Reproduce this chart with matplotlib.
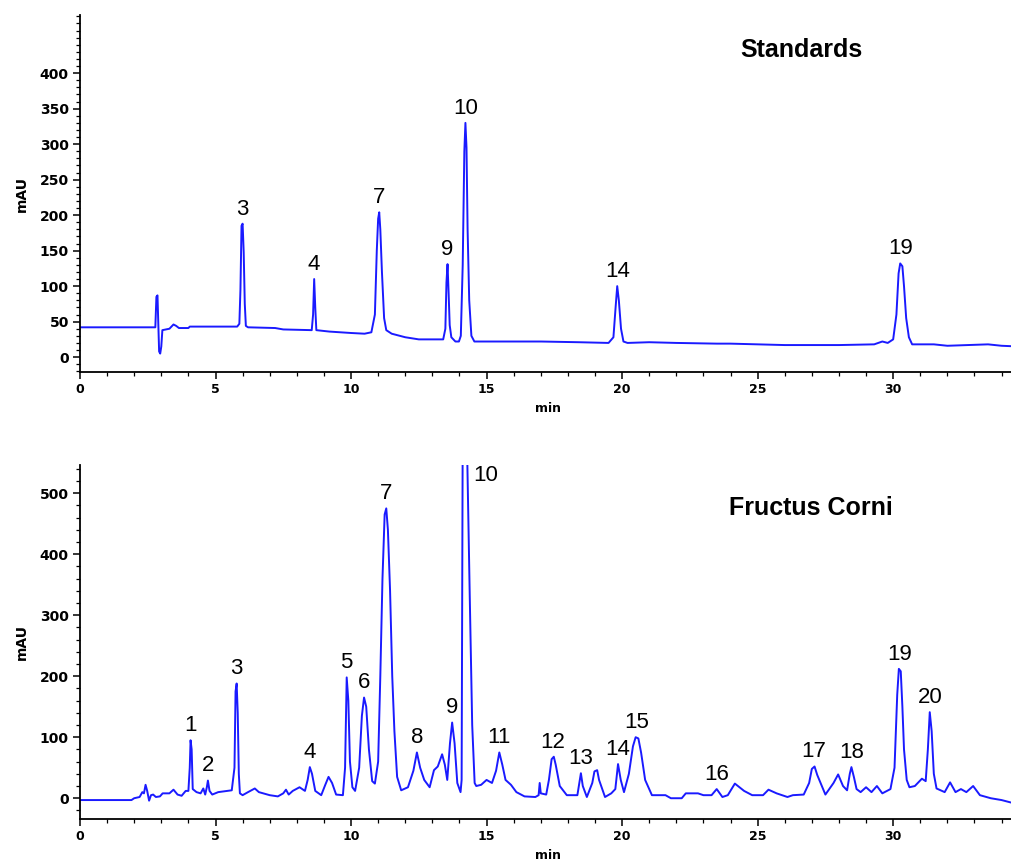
import matplotlib.pyplot as plt
from matplotlib.ticker import MultipleLocator

# Standards trace (time in min, signal in mAU)
std_t = [0.0, 2.78, 2.82, 2.86, 2.88, 2.92, 2.96, 3.0, 3.04, 3.3, 3.45, 3.55, 3.65, 4.0, 4.05,
         5.8, 5.88, 5.92, 5.96, 6.0, 6.04, 6.08, 6.12, 6.2, 7.2, 7.5, 8.55, 8.6, 8.64, 8.68, 8.72,
         9.2, 10.0, 10.5, 10.75, 10.88, 10.95, 11.0, 11.04, 11.08, 11.14, 11.22, 11.3, 11.5, 12.0,
         12.5, 13.4, 13.48, 13.52, 13.56, 13.6, 13.64, 13.7, 13.85, 13.98, 14.05, 14.12, 14.18,
         14.22, 14.26, 14.3, 14.36, 14.44, 14.55, 15.5, 17.0, 18.4, 19.5, 19.68, 19.76, 19.82,
         19.88, 19.96, 20.05, 20.2, 21.0, 22.0, 23.5, 24.0, 25.0, 26.0, 28.0, 29.3, 29.6, 29.8,
         30.0, 30.12, 30.2, 30.26, 30.34, 30.4, 30.48, 30.58, 30.7, 31.5, 32.0, 33.5, 34.0, 34.6]
std_v = [42, 42, 85, 87, 60, 8, 5, 15, 38, 40, 46, 44, 41, 41, 43,
         43, 47, 95, 185, 188, 148, 75, 44, 42, 41, 39, 38, 60, 110, 70, 38,
         36, 34, 33, 35, 60, 150, 195, 204, 180, 120, 55, 38, 33, 28,
         25, 25, 40, 105, 131, 90, 45, 28, 22, 22, 30, 130, 290,
         330, 295, 180, 80, 30, 22, 22, 22, 21, 20, 28, 70, 100,
         80, 40, 22, 20, 21, 20, 19, 19, 18, 17, 17, 18, 22, 20,
         25, 60, 118, 132, 128, 100, 55, 28, 18, 18, 16, 18, 16, 15]

# Fructus Corni extract trace
fc_t = [0.0, 1.9, 2.0, 2.2, 2.3, 2.36, 2.42, 2.48, 2.55, 2.62, 2.7, 2.8, 2.95, 3.05, 3.3, 3.45,
        3.6, 3.75, 3.9, 4.0, 4.05, 4.08, 4.12, 4.16, 4.3, 4.45, 4.55, 4.62, 4.68, 4.72, 4.78,
        4.88, 5.1, 5.6, 5.7, 5.74, 5.78, 5.82, 5.86, 5.9, 6.0, 6.2, 6.45, 6.6, 7.0, 7.3, 7.5,
        7.6, 7.7, 7.85, 8.1, 8.3, 8.4, 8.48, 8.56, 8.68, 8.9, 9.05, 9.17, 9.3, 9.45, 9.7, 9.78,
        9.84, 9.9, 9.96, 10.05, 10.15, 10.3, 10.4, 10.48, 10.56, 10.66, 10.78, 10.88, 11.0,
        11.08, 11.16, 11.24, 11.3, 11.36, 11.44, 11.52, 11.6, 11.7, 11.85, 12.1, 12.3, 12.43,
        12.55, 12.7, 12.9, 13.06, 13.2, 13.36, 13.46, 13.55, 13.65, 13.73, 13.82, 13.92, 14.04,
        14.08, 14.12, 14.2, 14.27, 14.38, 14.47, 14.56, 14.62, 14.8, 15.0, 15.2, 15.35, 15.47,
        15.58, 15.7, 15.9, 16.1, 16.4, 16.8, 16.92, 16.96, 17.0, 17.2, 17.3, 17.4, 17.48, 17.55,
        17.7, 17.96, 18.35, 18.42, 18.48, 18.55, 18.7, 18.9, 18.98, 19.08, 19.15, 19.37, 19.6,
        19.75, 19.85, 19.95, 20.07, 20.25, 20.4, 20.5, 20.6, 20.7, 20.85, 21.1, 21.6, 21.8,
        22.2, 22.35, 22.8, 23.0, 23.3, 23.49, 23.7, 23.9, 24.16, 24.5, 24.8, 25.2, 25.4, 25.7,
        26.1, 26.3, 26.7, 26.9, 27.0, 27.1, 27.2, 27.5, 27.8, 27.97, 28.15, 28.3, 28.4, 28.46,
        28.55, 28.65, 28.8, 29.0, 29.2, 29.4, 29.6, 29.9, 30.05, 30.15, 30.21, 30.28, 30.34,
        30.4, 30.5, 30.6, 30.8, 31.06, 31.2, 31.28, 31.35, 31.42, 31.5, 31.6, 31.9, 32.1, 32.3,
        32.5, 32.7, 32.95, 33.2, 33.6, 34.0, 34.6]
fc_v = [-3, -3, 0, 2, 10, 8, 22, 12, -4, 5, 6, 2, 3, 8, 8, 14,
        6, 4, 12, 12, 50, 95, 80, 15, 10, 8, 16, 6, 18, 29, 12,
        6, 10, 13, 50, 175, 188, 140, 40, 8, 5, 10, 16, 10, 5, 3, 8,
        14, 6, 12, 18, 12, 30, 51, 40, 12, 5, 22, 35, 25, 6, 5, 50,
        198, 160, 60, 18, 12, 50, 135, 165, 150, 80, 28, 24, 60,
        200, 360, 465, 475, 440, 340, 200, 110, 35, 13, 18, 45, 75,
        50, 30, 18, 46, 52, 72, 55, 30, 90, 124, 90, 25, 10,
        30, 600, 780, 600, 330, 120, 25, 20, 22, 30, 25, 45, 75,
        55, 30, 22, 10, 3, 2, 5, 25, 8, 6, 30, 64, 68, 55,
        20, 5, 5, 25, 41, 20, 2, 25, 44, 46, 30, 2, 8,
        15, 56, 30, 10, 40, 85, 100, 98, 75, 30, 5, 5, 0,
        0, 8, 8, 5, 5, 15, 2, 5, 24, 12, 5, 5, 14, 8,
        2, 5, 6, 25, 48, 52, 38, 6, 25, 39, 20, 13, 40, 51,
        35, 15, 10, 18, 10, 20, 8, 15, 50, 170, 212, 208, 150,
        80, 30, 18, 20, 32, 28, 80, 141, 110, 40, 16, 10, 26, 10,
        15, 10, 20, 5, 0, -3, -10]

# peak labels: (label, time, apex)
std_peaks = [("3", 6.0, 188), ("4", 8.64, 110), ("7", 11.04, 204), ("9", 13.56, 131),
             ("10", 14.22, 330), ("14", 19.82, 100), ("19", 30.26, 132)]
fc_peaks = [("1", 4.08, 95), ("2", 4.72, 29), ("3", 5.78, 188), ("4", 8.48, 51),
            ("5", 9.84, 198), ("6", 10.48, 165), ("7", 11.3, 475), ("8", 12.43, 75),
            ("9", 13.73, 124), ("11", 15.47, 75), ("12", 17.44, 68), ("13", 18.48, 41),
            ("14", 19.85, 56), ("15", 20.55, 100), ("16", 23.49, 15), ("17", 27.05, 52),
            ("18", 28.46, 51), ("19", 30.24, 212), ("20", 31.35, 141)]

line_color = "#1a1aff"
lab_font = "Liberation Sans"

fig = plt.figure(figsize=(10.11, 8.66), dpi=100)
ax1 = fig.add_axes([0.0791, 0.5704, 0.925, 0.4123])
ax2 = fig.add_axes([0.0791, 0.0543, 0.925, 0.4087])


def style_axis(ax, ylim, major, minor, ymax_label):
    ax.set_xlim(0, 34.5)
    ax.set_ylim(*ylim)
    for s in ["top", "right"]:
        ax.spines[s].set_visible(False)
    for s in ["left", "bottom"]:
        ax.spines[s].set_linewidth(1.3)
    ax.xaxis.set_major_locator(MultipleLocator(5))
    ax.xaxis.set_minor_locator(MultipleLocator(1))
    ax.set_yticks(list(range(0, ymax_label + 1, major)))
    ax.yaxis.set_minor_locator(MultipleLocator(minor))
    ax.tick_params(which="major", length=5, width=1.1, pad=3)
    ax.tick_params(axis="x", which="major", labelsize=9)
    ax.tick_params(axis="y", which="major", labelsize=10)
    ax.tick_params(which="minor", length=3, width=0.9)
    for lab in ax.get_xticklabels() + ax.get_yticklabels():
        lab.set_fontweight("bold")
    ax.set_xlabel("min", fontsize=9, fontweight="bold", labelpad=4)
    ax.set_ylabel("mAU", fontsize=10, fontweight="bold", labelpad=8)


ax1.plot(std_t, std_v, color=line_color, lw=1.4)
style_axis(ax1, (-21, 482), 50, 10, 400)
for lab, t, v in std_peaks:
    ax1.annotate(lab, (t, v), xytext=(0, 3), textcoords="offset points",
                 ha="center", va="bottom", fontsize=16, family=lab_font)
ax1.text(0.771, 0.902, "Standards", transform=ax1.transAxes, ha="center", va="center",
         fontsize=18, fontweight="bold", family=lab_font)

ax2.plot(fc_t, fc_v, color=line_color, lw=1.4)
style_axis(ax2, (-34, 546), 100, 20, 500)
for lab, t, v in fc_peaks:
    ax2.annotate(lab, (t, v), xytext=(0, 3), textcoords="offset points",
                 ha="center", va="bottom", fontsize=16, family=lab_font)
ax2.text(14.95, 529, "10", ha="center", va="center", fontsize=16, family=lab_font)
ax2.text(0.782, 0.88, "Fructus Corni", transform=ax2.transAxes, ha="center", va="center",
         fontsize=18, fontweight="bold", family=lab_font)

fig.savefig("out.png", dpi=100)
